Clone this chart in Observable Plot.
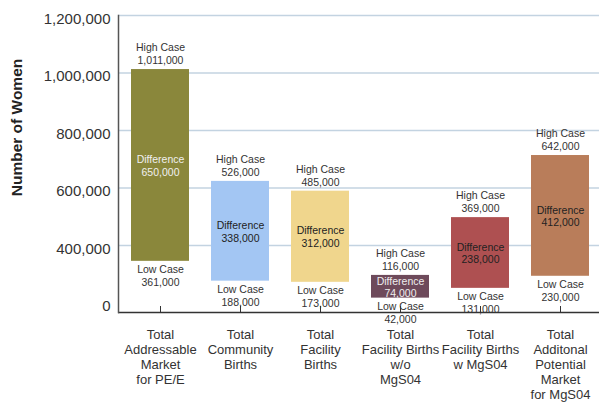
<!DOCTYPE html>
<html><head><meta charset="utf-8">
<script src="https://cdn.jsdelivr.net/npm/d3@7"></script>
<script src="https://cdn.jsdelivr.net/npm/@observablehq/plot@0.6"></script>
<style>
html,body{margin:0;padding:0;background:#fff;overflow:hidden}
#chart svg{display:block}
</style></head><body><div id="chart"></div>
<script>
const categories = [
  "Total\nAddressable\nMarket\nfor PE/E",
  "Total\nCommunity\nBirths",
  "Total\nFacility\nBirths",
  "Total\nFacility Births\nw/o\nMgS04",
  "Total\nFacility Births\nw MgS04",
  "Total\nAdditonal\nPotential\nMarket\nfor MgS04"
];
const highCase = [1011000, 526000, 485000, 116000, 369000, 642000];
const lowCase = [361000, 188000, 173000, 42000, 131000, 230000];
const difference = [650000, 338000, 312000, 74000, 238000, 412000];
// bar extents as drawn against the picture's y axis (the axis floor is labelled "0")
const barTop = [1012000, 623000, 589000, 296000, 497000, 713000];
const barBottom = [345000, 276000, 272000, 217000, 251000, 293000];
const barColors = ["#8a873b", "#a3c6f3", "#f0d68d", "#6e4a5b", "#ae5051", "#b97d5a"];
const diffTextColors = ["#f0f0f0", "#222222", "#222222", "#eeeeee", "#222222", "#222222"];
const yAxisFloor = 167000;
const yTicks = [yAxisFloor, 400000, 600000, 800000, 1000000, 1200000];
const yTickLabels = ["0", "400,000", "600,000", "800,000", "1,000,000", "1,200,000"];
const yTitle = "Number of Women";

const fmt = d3.format(",");
const W = 599, H = 402, mL = 118, mT = 15, mB = 90;

const rows = categories.map((c, i) => ({
  cat: c,
  high: highCase[i], low: lowCase[i], diff: difference[i],
  top: barTop[i], bottom: barBottom[i],
  mid: (barTop[i] + barBottom[i]) / 2,
  color: barColors[i], tcolor: diffTextColors[i]
}));

const font = "'Liberation Sans', Arial, Helvetica, sans-serif";
const tickLab = d => yTickLabels[yTicks.indexOf(d)];

const chart = Plot.plot({
  width: W, height: H,
  marginLeft: mL, marginRight: 0, marginTop: mT, marginBottom: mB,
  style: {fontFamily: font, color: "#333", background: "#fff"},
  x: {domain: categories, range: [mL, 603], paddingInner: 0.27, paddingOuter: 0.135, label: null},
  y: {domain: [yAxisFloor, 1200000], label: null},
  color: {type: "identity"},
  marks: [
    Plot.gridY(yTicks.slice(1), {stroke: "#c3d3e1", strokeOpacity: 1, strokeWidth: 1.6}),
    Plot.barY(rows, {x: "cat", y1: "bottom", y2: "top", fill: "color"}),
    Plot.ruleY([yAxisFloor], {stroke: "#333", strokeWidth: 1.5}),
    Plot.frame({anchor: "left", stroke: "#555", strokeWidth: 1.5}),
    Plot.axisY(yTicks.slice(1), {tickSize: 0, tickPadding: 8, tickFormat: tickLab, fontSize: 15, dy: 3.5, fill: "#333", label: null}),
    Plot.axisY([yAxisFloor], {tickSize: 0, tickPadding: 8, tickFormat: tickLab, fontSize: 15, dy: -6, fill: "#333", label: null}),
    Plot.axisX({tickSize: -6, tickPadding: 21.5, fontSize: 13, lineHeight: 1.154, fill: "#333", stroke: "#333", label: null}),
    Plot.text(rows, {x: "cat", y: "top", text: d => `High Case\n${fmt(d.high)}`, lineAnchor: "bottom", dy: -5.3, fontSize: 10.5, lineHeight: 1.24, fill: "#333"}),
    Plot.text(rows, {x: "cat", y: "bottom", text: d => `Low Case\n${fmt(d.low)}`, lineAnchor: "top", dy: 2.3, fontSize: 10.5, lineHeight: 1.24, fill: "#333"}),
    Plot.text(rows, {x: "cat", y: "mid", text: d => `Difference\n${fmt(d.diff)}`, lineAnchor: "middle", fontSize: 10.5, lineHeight: 1.2, fill: "tcolor"}),
    Plot.text([yTitle], {frameAnchor: "left", textAnchor: "middle", rotate: -90, dx: -101.5, dy: -36.5, fontSize: 15.5, fontWeight: "bold", fill: "#222"})
  ]
});
document.getElementById("chart").appendChild(chart);
</script></body></html>
